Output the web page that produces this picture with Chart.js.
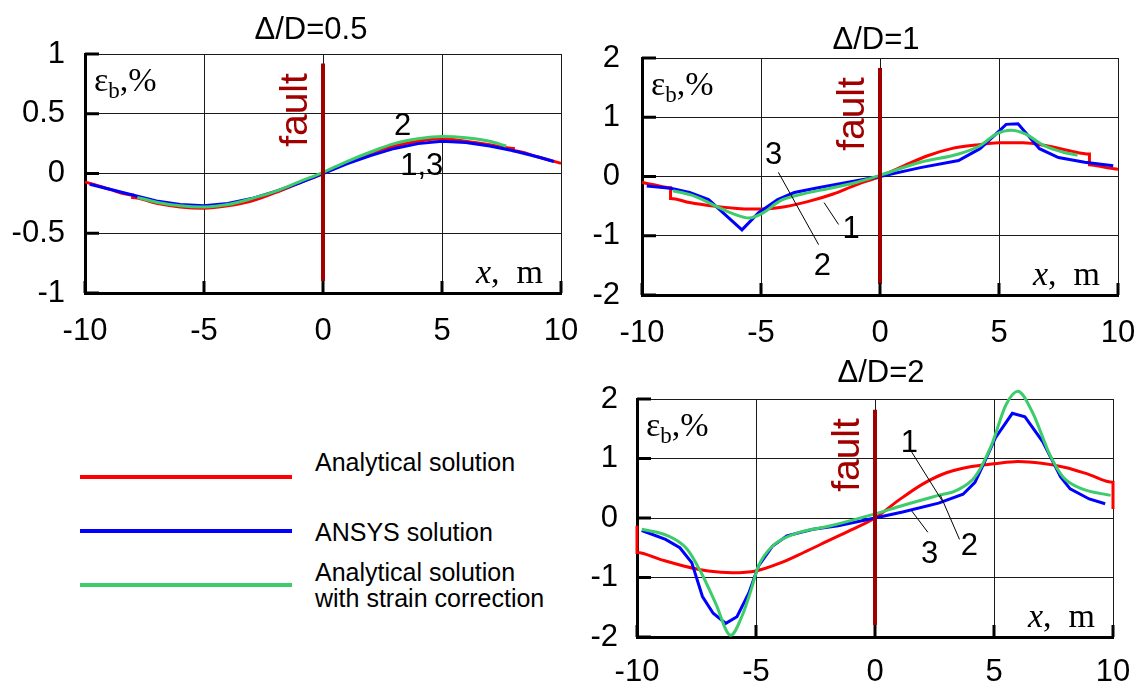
<!DOCTYPE html>
<html>
<head>
<meta charset="utf-8">
<script src="https://cdn.jsdelivr.net/npm/chart.js@4.4.1/dist/chart.umd.min.js"></script>
<style>
	body { margin: 0; background: #fff; width: 1143px; height: 693px; position: relative; overflow: hidden; font-family: 'Liberation Sans', Arial, sans-serif; }
	canvas { position: absolute; }
	.legend-line { position: absolute; left: 80px; width: 212px; height: 4px; }
	.legend-text { position: absolute; left: 315px; font-size: 25px; line-height: 26px; color: #000; white-space: nowrap; }
</style>
</head>
<body>
<canvas id="chart05" width="580" height="350" style="left:0;top:0"></canvas>
<canvas id="chart1" width="563" height="350" style="left:580px;top:0"></canvas>
<canvas id="chart2" width="563" height="343" style="left:580px;top:350px"></canvas>

<div class="legend-line" style="top:475px;background:#ff0000"></div>
<div class="legend-line" style="top:529px;background:#0000ff"></div>
<div class="legend-line" style="top:583px;background:#3ccc6a"></div>
<div class="legend-text" style="top:449px">Analytical solution</div>
<div class="legend-text" style="top:519px">ANSYS solution</div>
<div class="legend-text" style="top:559px">Analytical solution<br>with strain correction</div>

<script>
(() => {
	'use strict'

	// Axis ticks
	const xTicks = [-10, -5, 0, 5, 10];
	const yTicks05 = [-1, -0.5, 0, 0.5, 1];
	const yTicks12 = [-2, -1, 0, 1, 2];

	// Δ/D=0.5
	const x05Anal = [-10, -9, -8, -8, -7, -6, -5, -4, -3, -2, -1, 0, 1, 2, 3, 4, 5, 6, 7, 8, 8, 9, 10];
	const y05Anal = [-0.07, -0.13, -0.18, -0.2, -0.25, -0.28, -0.29, -0.27, -0.23, -0.16, -0.08, 0, 0.09, 0.17, 0.23, 0.27, 0.29, 0.27, 0.24, 0.21, 0.19, 0.14, 0.085];
	const x05Ansys = [-9.8, -9, -8, -7, -6, -5, -4, -3, -2, -1, 0, 1, 2, 3, 4, 5, 6, 7, 8, 9, 9.7];
	const y05Ansys = [-0.09, -0.13, -0.18, -0.23, -0.26, -0.27, -0.25, -0.21, -0.15, -0.08, 0, 0.08, 0.15, 0.21, 0.25, 0.27, 0.26, 0.23, 0.19, 0.14, 0.1];
	const x05Corr = [-7.8, -7, -6, -5, -4, -3, -2, -1, 0, 1, 2, 3, 4, 5, 6, 7, 7.7];
	const y05Corr = [-0.2, -0.24, -0.27, -0.28, -0.26, -0.21, -0.15, -0.07, 0.01, 0.1, 0.18, 0.25, 0.29, 0.31, 0.3, 0.27, 0.23];

	// Δ/D=1
	const x1Anal = [-10, -9.5, -8.8, -8.8, -8, -7, -6, -5.5, -5, -4, -3, -2, -1, 0, 1, 2, 3, 4, 5, 6, 7, 8, 8.8, 8.8, 9.5, 10];
	const y1Anal = [-0.1, -0.14, -0.19, -0.37, -0.44, -0.5, -0.54, -0.55, -0.55, -0.51, -0.42, -0.3, -0.14, 0, 0.18, 0.35, 0.47, 0.53, 0.57, 0.57, 0.52, 0.43, 0.38, 0.2, 0.15, 0.12];
	const x1Ansys = [-9.8, -8.8, -8, -7.2, -6.6, -5.8, -5.1, -4.3, -3.6, -2.6, -1.4, 0, 1.7, 3.3, 4.2, 4.8, 5.3, 5.8, 6.7, 7.5, 8.6, 9.8];
	const y1Ansys = [-0.16, -0.2, -0.27, -0.39, -0.61, -0.9, -0.61, -0.39, -0.27, -0.19, -0.1, 0, 0.15, 0.27, 0.47, 0.69, 0.88, 0.89, 0.47, 0.32, 0.24, 0.18];
	const x1Corr = [-8.7, -7.8, -6.9, -6.1, -5.5, -4.9, -4.2, -3.3, -2, -1, 0, 1.7, 3.3, 4.2, 4.9, 5.5, 6.1, 6.9, 7.7, 8.3];
	const y1Corr = [-0.24, -0.33, -0.5, -0.64, -0.7, -0.61, -0.41, -0.3, -0.19, -0.1, 0.02, 0.24, 0.38, 0.52, 0.72, 0.78, 0.72, 0.52, 0.41, 0.36];

	// Δ/D=2
	const x2Anal = [-10, -10, -9, -8, -7, -6, -5, -4, -3, -2, -1, 0, 1, 2, 3, 4, 5, 6, 7, 8, 9, 10, 10];
	const y2Anal = [-0.13, -0.58, -0.7, -0.81, -0.89, -0.92, -0.89, -0.76, -0.58, -0.39, -0.2, 0, 0.3, 0.57, 0.76, 0.86, 0.91, 0.95, 0.92, 0.85, 0.73, 0.6, 0.15];
	const x2Ansys = [-9.8, -8.8, -8.2, -7.7, -7.25, -6.8, -6.27, -5.8, -5.3, -4.9, -4.3, -3.7, -2.6, -1.55, 0, 1.16, 2.67, 3.7, 4.2, 4.6, 5.05, 5.77, 6.3, 7.05, 7.8, 8.2, 9, 9.67];
	const y2Ansys = [-0.21, -0.36, -0.5, -0.75, -1.32, -1.6, -1.77, -1.66, -1.26, -0.81, -0.47, -0.3, -0.19, -0.13, 0, 0.1, 0.25, 0.4, 0.6, 0.94, 1.34, 1.76, 1.7, 1.28, 0.69, 0.49, 0.32, 0.24];
	const x2Corr = [-9.8, -8.7, -7.9, -7.3, -6.7, -6.06, -5.6, -5.2, -4.9, -4.3, -3.4, -1.86, 0, 1.16, 2.67, 3.4, 4.2, 4.9, 5.5, 6.0, 6.6, 7.35, 7.9, 8.7, 9.9];
	const y2Corr = [-0.19, -0.3, -0.52, -0.92, -1.43, -1.97, -1.66, -1.2, -0.81, -0.47, -0.27, -0.13, 0.07, 0.21, 0.38, 0.46, 0.69, 1.23, 1.9, 2.13, 1.79, 1.06, 0.69, 0.49, 0.38];

	const redColor = '#ff0000';
	const blueColor = '#0000ff';
	const greenColor = '#3ccc6a';
	const faultColor = '#a00000';
	const gridColor = '#1a1a1a';
	const sans = "'Liberation Sans', Arial, sans-serif";
	const serif = "'Liberation Serif', 'Times New Roman', serif";

	const pts = (xs, ys) => xs.map((v, i) => ({ x: v, y: ys[i] }));

	// Draws inward ticks, titles, axis captions, the fault caption and curve numbers
	const decor = {
		id: 'decor',
		afterDraw(chart, args, opts) {
			const ctx = chart.ctx;
			const a = chart.chartArea;
			const sx = chart.scales.x;
			const sy = chart.scales.y;
			ctx.save();

			// inward ticks
			ctx.strokeStyle = '#000';
			ctx.lineWidth = 3;
			opts.yTicks.forEach(v => {
				const py = sy.getPixelForValue(v);
				ctx.beginPath();
				ctx.moveTo(a.left, py);
				ctx.lineTo(a.left + 14, py);
				ctx.stroke();
			});
			opts.xTicks.forEach(v => {
				const px = sx.getPixelForValue(v);
				ctx.beginPath();
				ctx.moveTo(px, a.bottom);
				ctx.lineTo(px, a.bottom - 12);
				ctx.stroke();
			});

			// title
			ctx.fillStyle = '#000';
			ctx.textBaseline = 'middle';
			ctx.textAlign = 'center';
			ctx.font = '31px ' + sans;
			ctx.fillText(opts.title, (a.left + a.right) / 2 + opts.titleDx, opts.titleY);

			// εb,% caption
			ctx.textAlign = 'left';
			ctx.textBaseline = 'alphabetic';
			let cx = a.left + 9;
			const cy = a.top + 37;
			ctx.font = '34px ' + serif;
			ctx.fillText('ε', cx, cy);
			cx += ctx.measureText('ε').width;
			ctx.font = '23px ' + serif;
			ctx.fillText('b', cx, cy + 7);
			cx += ctx.measureText('b').width;
			ctx.font = '34px ' + serif;
			ctx.fillText(',%', cx, cy);

			// x, m caption
			ctx.font = '34px ' + serif;
			const unitW = ctx.measureText(',  m').width;
			ctx.textAlign = 'right';
			ctx.fillText(',  m', a.right - 18, a.bottom - 10);
			ctx.font = 'italic 34px ' + serif;
			ctx.fillText('x', a.right - 18 - unitW, a.bottom - 10);

			// fault caption
			ctx.save();
			ctx.translate(sx.getPixelForValue(0) - 27, a.top + 56);
			ctx.rotate(-Math.PI / 2);
			ctx.fillStyle = faultColor;
			ctx.font = '39px ' + sans;
			ctx.textAlign = 'center';
			ctx.textBaseline = 'middle';
			ctx.fillText('fault', 0, 0);
			ctx.restore();

			// leader lines
			ctx.strokeStyle = '#000';
			ctx.lineWidth = 1;
			opts.leaders.forEach(l => {
				ctx.beginPath();
				ctx.moveTo(sx.getPixelForValue(l[0]), sy.getPixelForValue(l[1]));
				ctx.lineTo(sx.getPixelForValue(l[2]), sy.getPixelForValue(l[3]));
				ctx.stroke();
			});

			// curve numbers
			ctx.font = '31px ' + sans;
			ctx.textAlign = 'center';
			ctx.textBaseline = 'middle';
			opts.notes.forEach(n => {
				ctx.fillText(n.text, sx.getPixelForValue(n.x), sy.getPixelForValue(n.y));
			});

			ctx.restore();
		}
	};

	function makeChart(id, opt) {
		const config = {
			type: 'scatter',
			data: {
				datasets: [
					{ label: 'fault', data: opt.fault, borderColor: faultColor, borderWidth: 4, showLine: true, pointRadius: 0, order: 0 },
					{ label: 'Analytical solution with strain correction', data: opt.corr, borderColor: greenColor, borderWidth: 3, showLine: true, pointRadius: 0, cubicInterpolationMode: 'monotone', clip: false, order: 1 },
					{ label: 'ANSYS solution', data: opt.ansys, borderColor: blueColor, borderWidth: 3, showLine: true, pointRadius: 0, tension: 0, order: 2 },
					{ label: 'Analytical solution', data: opt.anal, borderColor: redColor, borderWidth: 3, showLine: true, pointRadius: 0, cubicInterpolationMode: 'monotone', clip: false, order: 3 }
				]
			},
			options: {
				responsive: false,
				animation: false,
				events: [],
				layout: {
					padding: { top: opt.top, right: opt.right, left: 0, bottom: 0 }
				},
				plugins: {
					legend: { display: false },
					tooltip: { enabled: false },
					title: { display: false },
					decor: {
						title: opt.title,
						titleDx: opt.titleDx,
						titleY: opt.titleY,
						xTicks: xTicks,
						yTicks: opt.yTicks,
						notes: opt.notes,
						leaders: opt.leaders
					}
				},
				scales: {
					x: {
						type: 'linear',
						min: -10,
						max: 10,
						afterBuildTicks: s => { s.ticks = xTicks.map(v => ({ value: v })); },
						afterFit: s => {
							s.height = opt.xAxisH;
							s.paddingLeft = 0;
							s.paddingRight = 0;
						},
						ticks: {
							color: '#000',
							padding: opt.xPad,
							maxRotation: 0,
							callback: v => String(v),
							font: { family: sans, size: 31 }
						},
						grid: { color: gridColor, lineWidth: 1, drawTicks: false },
						border: { color: '#000', width: 3 }
					},
					y: {
						min: opt.yTicks[0],
						max: opt.yTicks[opt.yTicks.length - 1],
						afterBuildTicks: s => { s.ticks = opt.yTicks.map(v => ({ value: v })); },
						afterFit: s => {
							s.width = opt.left;
							s.paddingTop = 0;
							s.paddingBottom = 0;
						},
						ticks: {
							color: '#000',
							padding: opt.yPad,
							callback: v => String(v),
							font: { family: sans, size: 31 }
						},
						grid: { color: gridColor, lineWidth: 1, drawTicks: false },
						border: { color: '#000', width: 3 }
					}
				}
			},
			plugins: [decor]
		};
		return new Chart(document.getElementById(id), config);
	}

	/******************** Δ/D=0.5 ********************/
	makeChart('chart05', {
		title: 'Δ/D=0.5', titleDx: -12, titleY: 30,
		left: 85, top: 54, right: 19, xAxisH: 57, xPad: 20, yPad: 20,
		yTicks: yTicks05,
		anal: pts(x05Anal, y05Anal),
		ansys: pts(x05Ansys, y05Ansys),
		corr: pts(x05Corr, y05Corr),
		fault: [{ x: 0, y: 0.92 }, { x: 0, y: -0.9 }],
		notes: [{ text: '2', x: 3.35, y: 0.39 }, { text: '1,3', x: 4.15, y: 0.06 }],
		leaders: []
	});

	/******************** Δ/D=1 ********************/
	makeChart('chart1', {
		title: 'Δ/D=1', titleDx: -4, titleY: 40,
		left: 62, top: 58, right: 25, xAxisH: 55, xPad: 20, yPad: 22,
		yTicks: yTicks12,
		anal: pts(x1Anal, y1Anal),
		ansys: pts(x1Ansys, y1Ansys),
		corr: pts(x1Corr, y1Corr),
		fault: [{ x: 0, y: 1.83 }, { x: 0, y: -1.81 }],
		notes: [{ text: '3', x: -4.47, y: 0.35 }, { text: '2', x: -2.42, y: -1.52 }, { text: '1', x: -1.21, y: -0.9 }],
		leaders: [[-4.27, 0.07, -2.58, -1.15], [-2.35, -0.44, -1.74, -0.81]]
	});

	/******************** Δ/D=2 ********************/
	makeChart('chart2', {
		title: 'Δ/D=2', titleDx: 6, titleY: 23,
		left: 57, top: 49, right: 30, xAxisH: 56, xPad: 17, yPad: 19,
		yTicks: yTicks12,
		anal: pts(x2Anal, y2Anal),
		ansys: pts(x2Ansys, y2Ansys),
		corr: pts(x2Corr, y2Corr),
		fault: [{ x: 0, y: 1.82 }, { x: 0, y: -1.8 }],
		notes: [{ text: '1', x: 1.44, y: 1.25 }, { text: '2', x: 3.96, y: -0.47 }, { text: '3', x: 2.3, y: -0.61 }],
		leaders: [[1.54, 1.11, 2.82, 0.29], [3.55, -0.36, 2.75, 0.38], [2.22, -0.24, 1.54, 0.12]]
	});
})()
</script>
</body>
</html>
